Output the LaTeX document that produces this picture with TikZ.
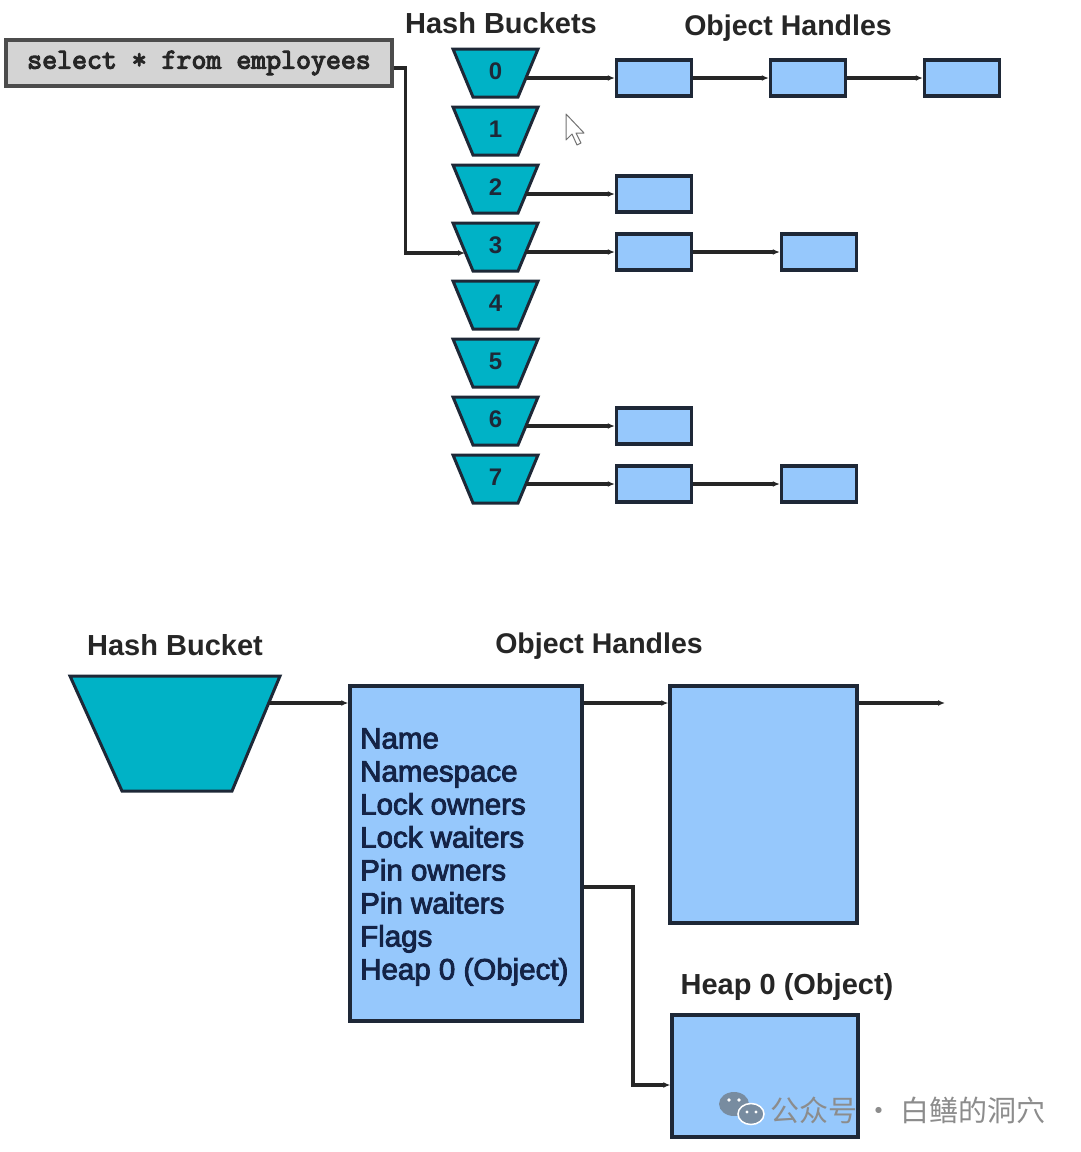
\documentclass[tikz,border=0pt]{standalone}
\usepackage{fontspec}
\setmainfont{Liberation Sans}
\newfontfamily\medsans[FakeBold=3]{Liberation Sans}
\newfontfamily\sqlfont[FakeBold=4]{Latin Modern Mono}
\newfontfamily\cjk{Noto Sans CJK SC}
\usetikzlibrary{arrows.meta}
\definecolor{teal1}{RGB}{0,178,198}
\definecolor{lblue}{RGB}{150,200,252}
\definecolor{edge}{RGB}{30,40,55}
\definecolor{navy}{RGB}{20,35,70}
\definecolor{sqlgray}{RGB}{212,212,212}
\definecolor{wmgray}{RGB}{140,140,140}
\definecolor{wmicon}{RGB}{120,140,160}
\begin{document}
\begin{tikzpicture}[x=1pt,y=-1pt,
 bucket/.style={draw=edge,fill=teal1,line width=3pt,line join=miter},
 digit/.style={font=\bfseries\fontsize{24}{24}\selectfont,text=edge,inner sep=0pt},
 hbox/.style={draw=edge,fill=lblue,line width=3.4pt,minimum width=75pt,minimum height=36pt,inner sep=0pt},
 bigbox/.style={draw=edge,fill=lblue,line width=3.4pt,inner sep=0pt},
 conn/.style={draw=black!85,line width=3.4pt,-{Latex[length=7pt,width=6pt]}},
 header/.style={font=\bfseries\fontsize{29}{33}\selectfont,text=black!85,inner sep=0pt},
]
\fill[white] (0,0) rectangle (1080,1152);
\useasboundingbox (0,0) rectangle (1080,1152);

% headers
\node[header] (hbh) at (501,23) {Hash Buckets};
\node[header,font=\bfseries\fontsize{28.5}{33}\selectfont] (hoh) at (788,28) {Object Handles};

% SQL box
\node[draw=black!70, fill=sqlgray, line width=3.4pt, minimum width=386pt, minimum height=46pt, inner sep=0pt,
      font=\sqlfont\fontsize{29}{30}\selectfont, text=black!85] (sql) at (199,63) {select * from employees};

% buckets
\foreach \k in {0,...,7} {
  \pgfmathsetmacro\t{49+58*\k}
  \draw[bucket] (453,\t) -- (538,\t) -- (518,\t+48) -- (473,\t+48) -- cycle;
  \node[digit] (b\k) at (495.5,\t+22) {\k};
  \coordinate (br\k) at (526,\t+29);
}
\coordinate (bl3) at (465,253);
\draw[conn] ([yshift=-5pt]sql.east) -- ++(12,0) |- (bl3);

% object handles (top)
\node[hbox] (h01) at (654,78) {};
\node[hbox] (h02) at (808,78) {};
\node[hbox] (h03) at (962,78) {};
\node[hbox] (h21) at (654,194) {};
\node[hbox] (h31) at (654,252) {};
\node[hbox] (h32) at (819,252) {};
\node[hbox] (h61) at (654,426) {};
\node[hbox] (h71) at (654,484) {};
\node[hbox] (h72) at (819,484) {};
\draw[conn] (br0) -- (h01);
\draw[conn] (h01) -- (h02);
\draw[conn] (h02) -- (h03);
\draw[conn] (br2) -- (h21);
\draw[conn] (br3) -- (h31);
\draw[conn] (h31) -- (h32);
\draw[conn] (br6) -- (h61);
\draw[conn] (br7) -- (h71);
\draw[conn] (h71) -- (h72);

% cursor
\draw[black!55, fill=white, line width=1pt, line join=round]
  (566,114) -- (566,140) -- (572,134) -- (577,145) -- (581,143) -- (576,133) -- (584,133) -- cycle;

% bottom part
\node[header] (hb1) at (175,645) {Hash Bucket};
\node[header,font=\bfseries\fontsize{28.5}{33}\selectfont] (ohb) at (599,646) {Object Handles};
\draw[bucket] (70,676) -- (280,676) -- (232,791) -- (122,791) -- cycle;
\coordinate (hbr) at (268.7,703);

\node[bigbox,minimum width=232pt,minimum height=335pt] (ob1) at (466,853.5) {};
\node[anchor=north west, inner sep=0pt, align=left, font=\medsans\fontsize{29.5}{33}\selectfont, text=navy] (fields) at (360,728)
  {Name\\Namespace\\Lock owners\\Lock waiters\\Pin owners\\Pin waiters\\Flags\\Heap 0 (Object)};
\node[bigbox,minimum width=187pt,minimum height=237pt] (ob2) at (763.5,804.5) {};
\node[bigbox,minimum width=186pt,minimum height=122pt] (ob3) at (765,1076) {};
\node[header] (hph) at (787,987) {Heap 0 (Object)};

\draw[conn] (hbr) -- (hbr -| ob1.west);
\draw[conn] (hbr -| ob1.east) -- (hbr -| ob2.west);
\coordinate (tail) at (945,703);
\draw[conn] (hbr -| ob2.east) -- (tail);
\coordinate (hp) at (633,887);
\coordinate (hq) at (0,1085);
\draw[conn] (hp -| ob1.east) -- (hp) |- (ob3.west |- hq);

% watermark
\fill[wmicon] (734,1104) ellipse (15 and 12);
\fill[wmicon, draw=white, line width=1.5pt] (751,1114) ellipse (13 and 10.5);
\fill[white] (729,1100) circle (1.8) (739,1100) circle (1.8) (747,1112) circle (1.6) (756,1112) circle (1.6);
\node[anchor=west, inner sep=0pt, font=\cjk\fontsize{29}{29}\selectfont, text=wmgray] (wm) at (770,1110)
  {公众号\hspace{7pt}·\hspace{7pt}白鳝的洞穴};
\end{tikzpicture}
\end{document}
